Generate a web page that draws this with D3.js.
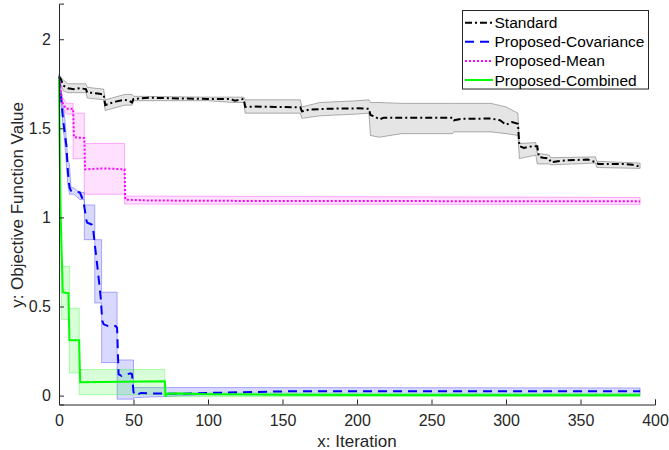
<!DOCTYPE html>
<html><head><meta charset="utf-8">
<script src="https://cdn.jsdelivr.net/npm/d3@7"></script>
<style>
html,body{margin:0;padding:0;background:#fff;}
svg{display:block;font-family:"Liberation Sans",Arial,Helvetica,sans-serif;}
</style></head>
<body><svg id="chart" width="669" height="450"></svg>
<script>
// ---------------- DATA ----------------
const seriesNames = ["Standard","Proposed-Covariance","Proposed-Mean","Proposed-Combined"];
const xTicks = [0,50,100,150,200,250,300,350,400];
const yTicks = [0,0.5,1,1.5,2];

// Standard
const stdIter = [0,1,2,3,6,10,14,18,19,22,26,30,31,34,38,44,47,49,50,60,80,100,115,118,121,124,125,130,145,162,163,168,180,200,208,209,212,215,218,240,264,265,270,290,296,300,304,308,309,312,318,321,322,325,329,330,340,355,360,362,380,385,390];
const stdMean = [1.79,1.78,1.76,1.74,1.725,1.72,1.725,1.72,1.70,1.70,1.695,1.69,1.63,1.64,1.65,1.66,1.655,1.645,1.665,1.672,1.668,1.665,1.665,1.655,1.66,1.665,1.62,1.622,1.62,1.618,1.595,1.605,1.61,1.612,1.61,1.575,1.565,1.55,1.56,1.56,1.56,1.545,1.553,1.555,1.545,1.52,1.535,1.525,1.40,1.39,1.40,1.40,1.34,1.335,1.33,1.31,1.32,1.325,1.31,1.30,1.30,1.295,1.285];
const stdBandIter = [0,3,6,18,19,30,31,44,49,50,100,117,124,125,162,163,175,200,208,209,215,230,264,265,290,300,308,309,320,321,329,330,360,361,390];
const stdLo = [1.77,1.71,1.70,1.70,1.67,1.66,1.60,1.63,1.63,1.655,1.655,1.645,1.645,1.585,1.585,1.556,1.57,1.58,1.585,1.46,1.45,1.47,1.47,1.48,1.48,1.47,1.46,1.33,1.35,1.30,1.30,1.295,1.305,1.28,1.275];
const stdHi = [1.80,1.77,1.75,1.75,1.73,1.72,1.66,1.69,1.69,1.68,1.675,1.675,1.675,1.66,1.66,1.62,1.645,1.655,1.66,1.645,1.645,1.64,1.64,1.64,1.64,1.62,1.585,1.415,1.42,1.36,1.35,1.335,1.34,1.315,1.305];

// Proposed-Covariance
const covIter = [0,1,3,5,6,7,8,14,16,17,18.5,19,22,23,24,25,27,28,29,30,33,38,39,40,42,48,49,50,51,55,60,80,100,130,160,390];
const covMean = [1.78,1.70,1.53,1.40,1.25,1.17,1.15,1.14,1.10,1.06,0.98,0.97,0.96,0.93,0.85,0.78,0.63,0.55,0.42,0.40,0.39,0.39,0.38,0.12,0.11,0.125,0.12,0.02,0.0,0.015,0.012,0.01,0.015,0.02,0.025,0.025];
const covBandIter = [0,2,4,6,7,8,10,14,17,17.01,24,24.01,28.6,28.61,39,39.01,50,50.01,100,390];
const covLo = [1.76,1.58,1.40,1.18,1.13,1.13,1.13,1.10,1.10,0.875,0.875,0.52,0.52,0.185,0.185,-0.02,-0.02,-0.012,0.005,0.006];
const covHi = [1.80,1.68,1.55,1.32,1.30,1.17,1.165,1.14,1.14,1.07,1.07,0.875,0.875,0.58,0.58,0.20,0.20,0.045,0.045,0.043];

// Proposed-Mean
const meanIter = [0,1,2,4,5,9.5,10,17,17.5,30,44,44.5,60,100,390];
const meanMean = [1.78,1.72,1.65,1.62,1.61,1.61,1.45,1.445,1.27,1.275,1.27,1.10,1.095,1.093,1.09];
const meanBandIter = [0,2,5,9.5,9.51,17,17.01,44,44.01,390];
const meanLo = [1.77,1.62,1.58,1.58,1.33,1.33,1.13,1.13,1.075,1.072];
const meanHi = [1.79,1.68,1.64,1.64,1.585,1.585,1.415,1.415,1.12,1.112];

// Proposed-Combined
const combIter = [0,0.5,1,2.5,6.3,7,13.5,14.2,71,71.5,73,80,100,150,200,390];
const combMean = [1.78,1.35,1.05,0.58,0.575,0.31,0.31,0.075,0.08,0.0,0.01,0.012,0.008,0.005,0.003,0.002];
const combBandIter = [0,1.8,7,7.01,13.6,13.61,71,71.01,390];
const combLo = [1.77,0.426,0.426,0.127,0.127,0.005,0.005,-0.006,-0.004];
const combHi = [1.79,0.725,0.725,0.49,0.49,0.146,0.146,0.016,0.012];

// ---------------- DRAW ----------------
const svg = d3.select("#chart");
const axisColor = "#262626";
const x = d3.scaleLinear().domain([0,400]).range([59,655]);
const y = d3.scaleLinear().domain([-0.05,2.2]).range([404.5,3.6]);

const series = [
  {name:seriesNames[0], it:stdIter, m:stdMean, bi:stdBandIter, lo:stdLo, hi:stdHi, color:"#000000", dash:"7,3,2,3", fillOp:0.1},
  {name:seriesNames[1], it:covIter, m:covMean, bi:covBandIter, lo:covLo, hi:covHi, color:"#0000ff", dash:"9,6", fillOp:0.15},
  {name:seriesNames[2], it:meanIter, m:meanMean, bi:meanBandIter, lo:meanLo, hi:meanHi, color:"#ff00ff", dash:"2,2", fillOp:0.12},
  {name:seriesNames[3], it:combIter, m:combMean, bi:combBandIter, lo:combLo, hi:combHi, color:"#00ff00", dash:null, fillOp:0.15}
];

const gBands = svg.append("g");
const gLines = svg.append("g");

series.forEach(s => {
  const pts = s.bi.map((v,i)=>({x:v, lo:s.lo[i], hi:s.hi[i]}));
  const area = d3.area().x(d=>x(d.x)).y0(d=>y(d.lo)).y1(d=>y(d.hi));
  gBands.append("path").attr("d", area(pts))
    .attr("fill", s.color).attr("fill-opacity", s.fillOp)
    .attr("stroke", s.color).attr("stroke-opacity", 0.3).attr("stroke-width", 1);
});

series.forEach(s => {
  const pts = s.it.map((v,i)=>({x:v, y:s.m[i]}));
  const line = d3.line().x(d=>x(d.x)).y(d=>y(d.y));
  gLines.append("path").attr("d", line(pts))
    .attr("fill","none").attr("stroke", s.color).attr("stroke-width", 2)
    .attr("stroke-dasharray", s.dash);
});

// axes
const xAxis = d3.axisBottom(x).tickValues(xTicks).tickSize(-5).tickPadding(10).tickFormat(d3.format("d"));
const yAxis = d3.axisLeft(y).tickValues(yTicks).tickSize(-5).tickPadding(8).tickFormat(d=>String(d));
const gx = svg.append("g").attr("transform","translate(0,404.5)").call(xAxis);
const gy = svg.append("g").attr("transform","translate(59,0)").call(yAxis);
[gx,gy].forEach(g=>{
  g.select(".domain").attr("stroke",axisColor).attr("stroke-width",1);
  g.selectAll(".tick line").attr("stroke",axisColor).attr("stroke-width",1);
  g.selectAll(".tick text").attr("fill",axisColor).style("font-size","16px").style("font-family","'Liberation Sans',Arial,sans-serif");
});

svg.append("text").attr("x",357).attr("y",447).attr("text-anchor","middle")
  .attr("fill",axisColor).style("font-size","17px").text("x: Iteration");
svg.append("text").attr("transform","translate(23,205) rotate(-90)").attr("text-anchor","middle")
  .attr("fill",axisColor).style("font-size","17px").text("y: Objective Function Value");

// legend
const lg = svg.append("g");
lg.append("rect").attr("x",462.5).attr("y",10.5).attr("width",186).attr("height",78.5)
  .attr("fill","#fff").attr("stroke",axisColor).attr("stroke-width",1);
series.forEach((s,i)=>{
  const cy = 22.7 + i*19.1;
  lg.append("line").attr("x1",465).attr("x2",493).attr("y1",cy).attr("y2",cy)
    .attr("stroke",s.color).attr("stroke-width",2).attr("stroke-dasharray", s.dash);
  lg.append("text").attr("x",494.5).attr("y",cy).attr("dy","0.36em")
    .attr("fill","#000").style("font-size","15.5px").text(s.name);
});
</script></body></html>
